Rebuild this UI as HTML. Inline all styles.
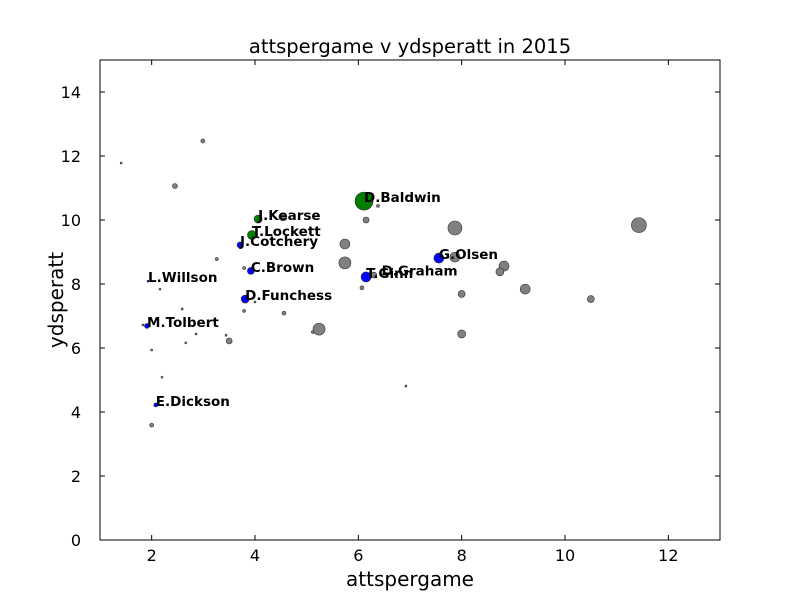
<!DOCTYPE html>
<html><head><meta charset="utf-8"><style>
body{margin:0;background:#fff;}
svg{display:block;font-family:"DejaVu Sans","Liberation Sans",sans-serif;}
</style></head><body>
<svg id="chart" width="800" height="600" viewBox="0 0 800 600">
<rect width="800" height="600" fill="#fff"/>
<text x="410" y="53" font-size="19.5" text-anchor="middle">attspergame v ydsperatt in 2015</text>
<g id="ticks"></g>
<g id="marks"></g>
<g id="labels"></g>
<rect x="100" y="60" width="620" height="480" fill="none" stroke="#000" stroke-width="1"/>
<text x="410" y="586" font-size="20" text-anchor="middle">attspergame</text>
<text x="0" y="0" font-size="20" text-anchor="middle" transform="translate(63,300) rotate(-90)">ydsperatt</text>
</svg>
<script>
const xs=[1.41,2.99,2.45,3.26,3.79,2.16,2.59,3.79,4.0,4.56,3.5,2.86,3.44,2.66,2.0,2.2,2.0,1.83,4.54,5.12,5.24,5.74,5.74,6.15,6.38,6.07,6.30,6.92,7.87,7.87,8.0,8.0,8.82,8.74,9.23,10.5,11.43,
 6.11,4.06,3.94,6.45,
 3.71,3.92,3.81,1.91,2.08,6.15,7.56,1.93];
const ys=[11.78,12.47,11.06,8.78,8.5,7.84,7.22,7.16,7.44,7.09,6.22,6.44,6.4,6.16,5.94,5.09,3.59,6.72,10.1,6.5,6.59,9.25,8.66,10.0,10.44,7.88,8.28,4.81,9.75,8.84,7.69,6.44,8.56,8.38,7.84,7.53,9.84,
 10.59,10.03,9.53,8.3,
 9.22,8.41,7.53,6.69,4.22,8.22,8.81,8.09];
const sizes=[1,2,2.5,1.5,1.5,1,1,1.5,1,2,3,1,1,1,1,1,2,1,4,1.5,6,5,6,3,1.5,2,3,1,7,5,3.5,4,5,4,5,3.5,7.5,
 9,4,4.5,1,
 3,3.5,4,2.5,2,5,5,1];
const groups=['g','g','g','g','g','g','g','g','g','g','g','g','g','g','g','g','g','g','g','g','g','g','g','g','g','g','g','g','g','g','g','g','g','g','g','g','g',
 'G','G','G','G',
 'B','B','B','B','B','B','B','B'];
const names=['','','','','','','','','','','','','','','','','','','','','','','','','','','','','','','','','','','','','',
 'D.Baldwin','J.Kearse','T.Lockett','D.Graham',
 'J.Cotchery','C.Brown','D.Funchess','M.Tolbert','E.Dickson','T.Ginn','G.Olsen','L.Willson'];
const xTicks=[2,4,6,8,10,12];
const yTicks=[0,2,4,6,8,10,12,14];
const X=v=>100+(v-1)*620/12, Y=v=>540-v*480/15;
const NS='http://www.w3.org/2000/svg';
const tg=document.getElementById('ticks'),mg=document.getElementById('marks'),lg=document.getElementById('labels');
function mk(tag,at,p){const e=document.createElementNS(NS,tag);for(const k in at)e.setAttribute(k,at[k]);p.appendChild(e);return e;}
xTicks.forEach(t=>{
 const l=mk('line',{x1:X(t),x2:X(t),y1:540,y2:535,stroke:'#000'},tg);
 
 
 const l2=mk('line',{x1:X(t),x2:X(t),y1:60,y2:65,stroke:'#000'},tg);
 
 
 const tx=mk('text',{x:X(t),y:561,'font-size':16,'text-anchor':'middle'},tg);tx.textContent=t;
 
 
});
yTicks.forEach(t=>{
 const l=mk('line',{x1:100,x2:105,y1:Y(t),y2:Y(t),stroke:'#000'},tg);
 
 
 const l2=mk('line',{x1:715,x2:720,y1:Y(t),y2:Y(t),stroke:'#000'},tg);
 
 
 const tx=mk('text',{x:81,y:Y(t)+6,'font-size':16,'text-anchor':'end'},tg);tx.textContent=t;
 
 
});
const col={g:'#808080',G:'#007f00',B:'#0000ff'};
xs.forEach((v,i)=>{
 const c=mk('circle',{cx:X(v),cy:Y(ys[i]),r:sizes[i],fill:col[groups[i]],stroke:'#333','stroke-width':0.6},mg);
 
 
 if(names[i]){
  const t=mk('text',{x:X(v),y:Y(ys[i])+1,'font-size':13.5,'font-weight':'bold'},lg);t.textContent=names[i];
  
  
 }
});
</script>
</body></html>
